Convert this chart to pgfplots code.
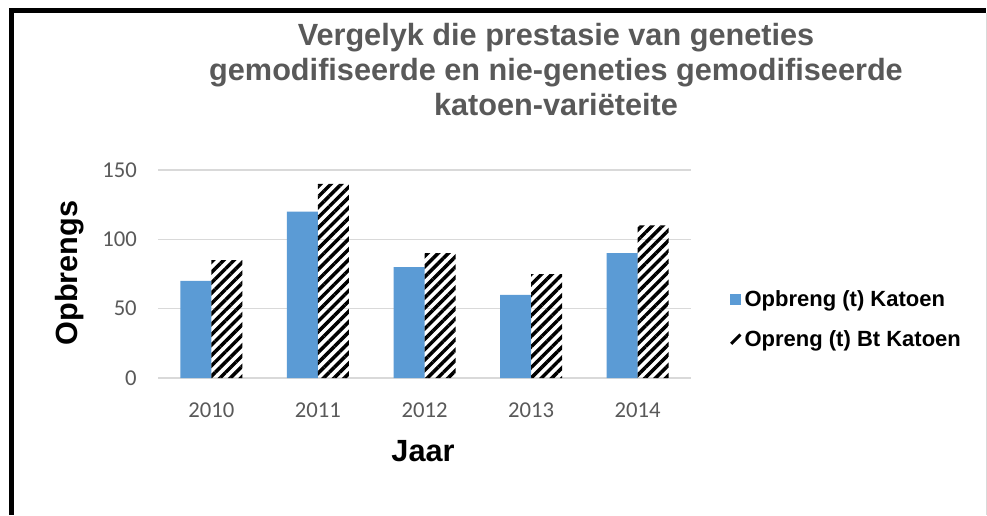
\documentclass[border=0pt]{standalone}
\usepackage{pgfplots}
\pgfplotsset{compat=1.18}
\usepackage{fontspec}
\setmainfont{Liberation Sans}
\newfontfamily\calibri{Carlito}
\usetikzlibrary{patterns.meta}
\definecolor{barblue}{HTML}{5B9BD5}
\definecolor{titlegray}{HTML}{595959}
\definecolor{gridgray}{HTML}{D9D9D9}
\begin{document}
\begin{tikzpicture}
\path[use as bounding box] (0,0) rectangle (740.25pt,386.25pt);
\fill[white] (0,0) rectangle (740.25pt,386.25pt);
% frame
\fill[black] (6.5pt,376.5pt) rectangle (739.5pt,380.25pt);
\fill[black] (6.5pt,0pt) rectangle (10.5pt,380.25pt);
\draw[gridgray, line width=0.6pt] (739.6pt,0pt) -- (739.6pt,376.5pt);
% title
\node[anchor=base, font=\bfseries\fontsize{23}{26}\selectfont, text=titlegray] at (417pt,351.75pt) {Vergelyk die prestasie van geneties};
\node[anchor=base, font=\bfseries\fontsize{23}{26}\selectfont, text=titlegray] at (417pt,325.5pt) {gemodifiseerde en nie-geneties gemodifiseerde};
\node[anchor=base, font=\bfseries\fontsize{23}{26}\selectfont, text=titlegray] at (417pt,299.25pt) {katoen-variëteite};
% axis labels
\node[rotate=90, anchor=base, font=\bfseries\fontsize{23}{26}\selectfont] at (57.75pt,181.5pt) {Opbrengs};
\node[anchor=base, font=\bfseries\fontsize{23}{26}\selectfont] at (317.25pt,40.5pt) {Jaar};
\begin{axis}[
  at={(118.5pt,102.75pt)}, anchor=south west,
  width=399.75pt, height=156pt, scale only axis,
  xmin=-0.5, xmax=4.5, ymin=0, ymax=150,
  ybar=0pt, bar width=23.25pt,
  xtick={0,1,2,3,4}, xticklabels={2010,2011,2012,2013,2014},
  ytick={0,50,100,150},
  ymajorgrids, grid style={gridgray, line width=1pt},
  axis line style={draw=none},
  major tick length=0pt,
  /pgf/number format/assume math mode=true,
  tick label style={font=\calibri\fontsize{17}{20}\selectfont, text=titlegray, inner sep=0pt},
  xticklabel style={anchor=base, yshift=-29.25pt},
  yticklabel style={anchor=east, xshift=-15.75pt},
  legend style={at={(axis description cs:1.072,0.281)}, anchor=west,
    draw=none, fill=none, inner sep=0pt, row sep=16pt,
    font=\bfseries\fontsize{16.5}{19}\selectfont,
    nodes={inner xsep=2pt, inner ysep=0pt}},
  legend cell align=left,
]
\addplot[fill=barblue, draw=none,
  legend image code/.code={\fill[barblue] (0pt,-4pt) rectangle (8.25pt,4.25pt);}]
  coordinates {(0,70) (1,120) (2,80) (3,60) (4,90)};
\addplot[pattern={Lines[angle=45,distance=5.5pt,line width=2.6pt]}, pattern color=black, draw=none,
  legend image code/.code={\draw[black, line width=2.2pt] (0.5pt,-3.5pt) -- (7.5pt,3.5pt);}]
  coordinates {(0,85) (1,140) (2,90) (3,75) (4,110)};
\legend{Opbreng (t) Katoen, Opreng (t) Bt Katoen}
\end{axis}
\end{tikzpicture}
\end{document}
